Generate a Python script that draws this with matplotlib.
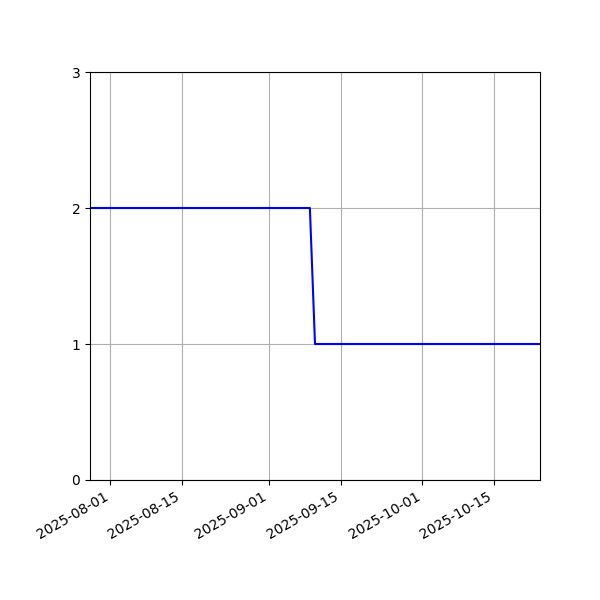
import pandas as pd
import matplotlib
matplotlib.use('Agg')
import matplotlib.pyplot as plt

# =======  DATA  ======= #
dates = ['2025-07-28', '2025-09-09', '2025-09-10', '2025-10-24']
values = [2, 2, 1, 1]

# =======  PLOT  ======= #
fig, ax = plt.subplots(figsize=(6, 6), dpi=100)
x = pd.to_datetime(dates)
ax.plot(x, values, color='blue')
ax.set_xlim(x[0], x[-1])
ax.set_ylim(0, 3)
ax.set_yticks([0, 1, 2, 3])
ax.grid(True)
fig.autofmt_xdate()
fig.subplots_adjust(left=0.15, right=0.9, top=0.88, bottom=0.2)
fig.savefig('out.png')
